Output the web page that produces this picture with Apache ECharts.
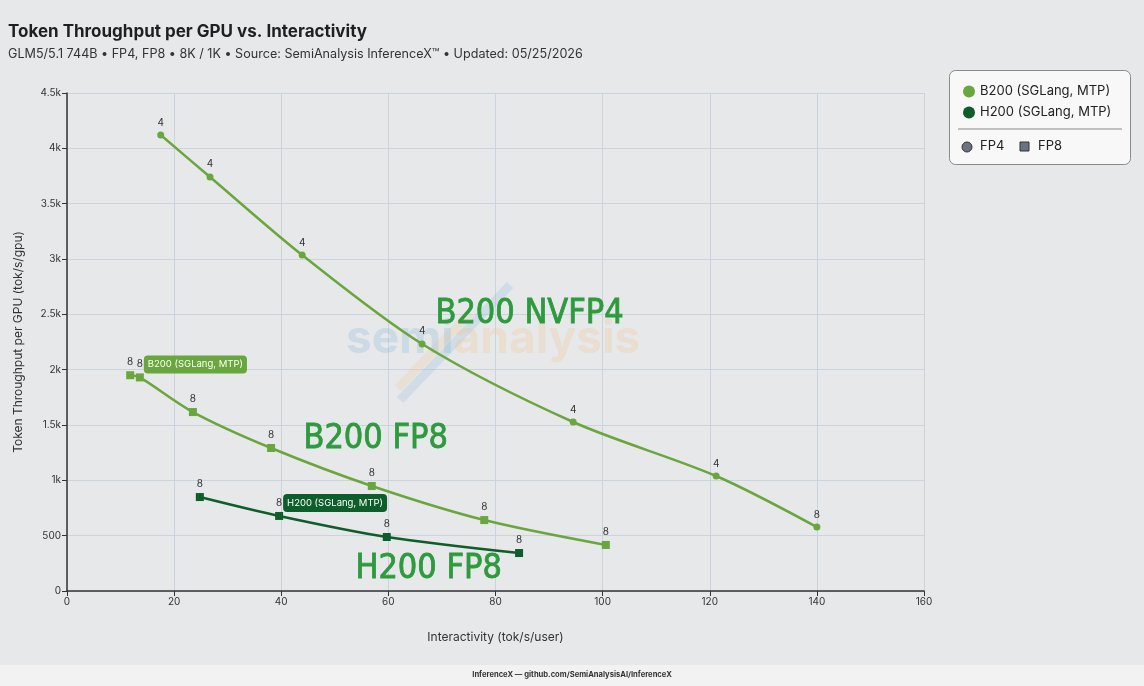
<!DOCTYPE html>
<html>
<head>
<meta charset="utf-8">
<script src="https://cdn.jsdelivr.net/npm/echarts@6/dist/echarts.min.js"></script>
<style>
  html, body { margin: 0; padding: 0; background: #e7e8ea; }
  #chart { width: 1144px; height: 686px; }
</style>
</head>
<body>
<div id="chart"></div>
<script>
// data
const b200Fp4X = [17.5, 26.7, 43.9, 66.3, 94.5, 121.2, 140.0]
const b200Fp4Y = [4120, 3741, 3036, 2232, 1527, 1039, 578]
const b200Fp4Tp = ['4', '4', '4', '4', '4', '4', '8']

const b200Fp8X = [11.8, 13.6, 23.5, 38.1, 56.9, 77.9, 100.6]
const b200Fp8Y = [1950, 1930, 1617, 1292, 949, 641, 416]
const b200Fp8Tp = ['8', '8', '8', '8', '8', '8', '8']

const h200Fp8X = [24.8, 39.6, 59.7, 84.4]
const h200Fp8Y = [849, 678, 488, 343]
const h200Fp8Tp = ['8', '8', '8', '8']

const xTicks = [0, 20, 40, 60, 80, 100, 120, 140, 160]
const yTicks = [0, 500, 1000, 1500, 2000, 2500, 3000, 3500, 4000, 4500]

const B200_COLOR = '#6aa63e'
const H200_COLOR = '#0e5e2b'
const NOTE_COLOR = '#2e9a3e'
const FONT = 'Inter, "Noto Sans", sans-serif'
const NOTE_FONT = '"DejaVu Sans Condensed", "DejaVu Sans"'

function pts(xs, ys, tps) {
  return xs.map((x, i) => ({ value: [x, ys[i]], tp: tps[i] }))
}

function lineSeries(name, xs, ys, tps, color, symbol, size) {
  return {
    name: name,
    type: 'line',
    smooth: 0.3,
    symbol: symbol,
    symbolSize: size,
    data: pts(xs, ys, tps),
    itemStyle: { color: color },
    lineStyle: { color: color, width: 2.5 },
    label: {
      show: true,
      position: 'top',
      distance: 4,
      formatter: p => p.data.tp,
      color: '#333',
      fontSize: 10,
      fontFamily: FONT
    },
    z: 3
  }
}

function tagSeries(name, x, y, color) {
  return {
    name: name,
    type: 'scatter',
    silent: true,
    symbolSize: 0,
    data: [[x, y]],
    itemStyle: { opacity: 1, color: color },
    label: {
      show: true,
      position: 'right',
      distance: 4,
      offset: [0, -13],
      formatter: name,
      color: '#fff',
      fontSize: 9.5,
      fontFamily: FONT,
      backgroundColor: color,
      borderRadius: 4,
      padding: [4, 4]
    },
    z: 5
  }
}

var myChart = echarts.init(document.getElementById('chart'))
var option = {
  backgroundColor: '#e7e8ea',
  animation: false,
  title: {
    text: 'Token Throughput per GPU vs. Interactivity',
    subtext: 'GLM5/5.1 744B • FP4, FP8 • 8K / 1K • Source: SemiAnalysis InferenceX™ • Updated: 05/25/2026',
    left: 3,
    top: 18,
    itemGap: 8,
    textStyle: { fontSize: 17, fontWeight: 'bold', color: '#1f1f1f', fontFamily: FONT },
    subtextStyle: { fontSize: 12.6, color: '#333', fontFamily: FONT }
  },
  legend: {
    data: ['B200 (SGLang, MTP)', 'H200 (SGLang, MTP)'],
    orient: 'vertical',
    left: 958,
    top: 80,
    icon: 'circle',
    itemWidth: 12,
    itemHeight: 12,
    itemGap: 8,
    textStyle: { fontSize: 13, color: '#222', fontFamily: FONT }
  },
  grid: { left: 67, right: 220, top: 93, bottom: 95 },
  xAxis: {
    type: 'value',
    min: xTicks[0],
    max: xTicks[xTicks.length - 1],
    interval: 20,
    name: 'Interactivity (tok/s/user)',
    nameLocation: 'middle',
    nameGap: 40,
    nameTextStyle: { fontSize: 12, color: '#333', fontFamily: FONT },
    axisLine: { show: true, lineStyle: { color: '#333', width: 1.5 } },
    axisTick: { show: true, length: 5, lineStyle: { color: '#333' } },
    axisLabel: { fontSize: 10, color: '#333', fontFamily: FONT, margin: 6 },
    splitLine: { show: true, lineStyle: { color: '#cbd3dd', width: 1 } }
  },
  yAxis: {
    type: 'value',
    min: yTicks[0],
    max: yTicks[yTicks.length - 1],
    interval: 500,
    name: 'Token Throughput per GPU (tok/s/gpu)',
    nameLocation: 'middle',
    nameGap: 43,
    nameTextStyle: { fontSize: 12, color: '#333', fontFamily: FONT },
    axisLine: { show: true, lineStyle: { color: '#333', width: 1.5 } },
    axisTick: { show: true, length: 5, lineStyle: { color: '#333' } },
    axisLabel: {
      fontSize: 10,
      color: '#333',
      fontFamily: FONT,
      margin: 6,
      formatter: v => v >= 1000 ? (v / 1000) + 'k' : String(v)
    },
    splitLine: { show: true, lineStyle: { color: '#cbd3dd', width: 1 } }
  },
  graphic: [
    // watermark
    {
      type: 'line', z: 1, silent: true,
      shape: { x1: 400, y1: 400, x2: 510, y2: 285 },
      style: { stroke: 'rgba(140,185,220,0.25)', lineWidth: 9 }
    },
    {
      type: 'line', z: 1, silent: true,
      shape: { x1: 398, y1: 388, x2: 470, y2: 313 },
      style: { stroke: 'rgba(240,200,150,0.25)', lineWidth: 9 }
    },
    {
      type: 'text', z: 1, silent: true, left: 346, top: 316,
      style: {
        text: '{a|semi}{b|analysis}',
        rich: {
          a: { fontSize: 46, fontWeight: 'bold', fill: 'rgba(140,185,220,0.3)', fontFamily: FONT },
          b: { fontSize: 46, fontWeight: 'bold', fill: 'rgba(240,200,150,0.3)', fontFamily: FONT }
        }
      }
    },
    // hand-written notes
    {
      type: 'text', z: 10, left: 435, top: 297,
      style: { text: 'B200 NVFP4', fontSize: 34, fill: NOTE_COLOR, fontFamily: NOTE_FONT, stroke: NOTE_COLOR, lineWidth: 0.8 }
    },
    {
      type: 'text', z: 10, left: 303, top: 422,
      style: { text: 'B200 FP8', fontSize: 34, fill: NOTE_COLOR, fontFamily: NOTE_FONT, stroke: NOTE_COLOR, lineWidth: 0.8 }
    },
    {
      type: 'text', z: 10, left: 355, top: 552,
      style: { text: 'H200 FP8', fontSize: 34, fill: NOTE_COLOR, fontFamily: NOTE_FONT, stroke: NOTE_COLOR, lineWidth: 0.8 }
    },
    // legend box
    {
      type: 'rect', z: -1, left: 949, top: 70,
      shape: { width: 181, height: 94, r: 6 },
      style: { fill: '#f8f8f8', stroke: '#8a8a8a', lineWidth: 1 }
    },
    {
      type: 'line', z: 2,
      shape: { x1: 958, y1: 129, x2: 1122, y2: 129 },
      style: { stroke: '#888', lineWidth: 1 }
    },
    {
      type: 'circle', z: 2,
      shape: { cx: 967, cy: 147, r: 5 },
      style: { fill: '#6b7280', stroke: '#333', lineWidth: 1 }
    },
    {
      type: 'text', z: 2, left: 980, top: 140,
      style: { text: 'FP4', fontSize: 13, fill: '#222', fontFamily: FONT }
    },
    {
      type: 'rect', z: 2,
      shape: { x: 1020, y: 142, width: 9, height: 9 },
      style: { fill: '#6b7280', stroke: '#333', lineWidth: 1 }
    },
    {
      type: 'text', z: 2, left: 1038, top: 140,
      style: { text: 'FP8', fontSize: 13, fill: '#222', fontFamily: FONT }
    },
    // footer
    {
      type: 'rect', z: -1, left: 0, top: 665,
      shape: { width: 1144, height: 21 },
      style: { fill: '#f2f2f2' }
    },
    {
      type: 'text', z: 2, left: 'center', top: 671,
      style: { text: 'InferenceX — github.com/SemiAnalysisAI/InferenceX', fontSize: 7.6, fontWeight: 'bold', fill: '#333', fontFamily: FONT }
    }
  ],
  series: [
    lineSeries('B200 (SGLang, MTP)', b200Fp4X, b200Fp4Y, b200Fp4Tp, B200_COLOR, 'circle', 7),
    lineSeries('B200 (SGLang, MTP)', b200Fp8X, b200Fp8Y, b200Fp8Tp, B200_COLOR, 'rect', 8),
    lineSeries('H200 (SGLang, MTP)', h200Fp8X, h200Fp8Y, h200Fp8Tp, H200_COLOR, 'rect', 8),
    tagSeries('B200 (SGLang, MTP)', b200Fp8X[1], b200Fp8Y[1], B200_COLOR),
    tagSeries('H200 (SGLang, MTP)', h200Fp8X[1], h200Fp8Y[1], H200_COLOR)
  ]
}
myChart.setOption(option)
window.addEventListener('resize', () => {
  myChart.resize()
}, false)
</script>
</body>
</html>
